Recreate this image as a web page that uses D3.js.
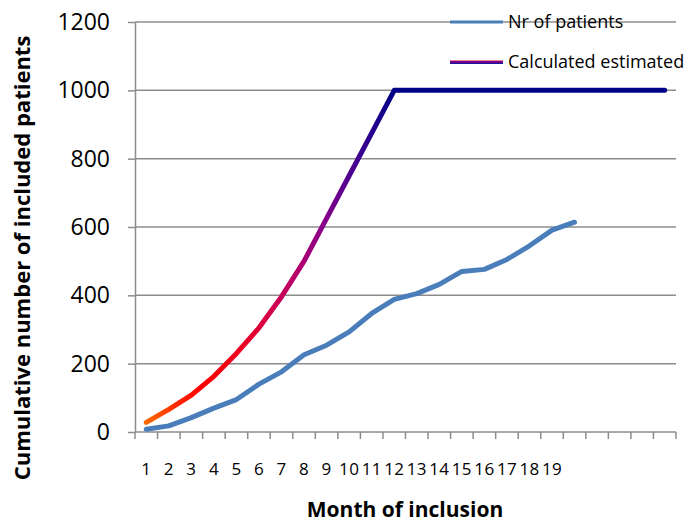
<!DOCTYPE html>
<html>
<head>
<meta charset="utf-8">
<script src="https://cdn.jsdelivr.net/npm/d3@7"></script>
<style>
  body { margin: 0; background: #fff; }
  text { font-family: "Open Sans", sans-serif; fill: #000; }
</style>
</head>
<body>
<div id="chart"></div>
<script>
// months on the x axis (24 slots, only 1-19 are labelled)
var categories = [1, 2, 3, 4, 5, 6, 7, 8, 9, 10, 11, 12, 13, 14, 15, 16, 17, 18, 19, 20, 21, 22, 23, 24];
var tickLabels = ['1', '2', '3', '4', '5', '6', '7', '8', '9', '10', '11', '12', '13', '14', '15', '16', '17', '18', '19', '', '', '', '', ''];
var yTicks = [0, 200, 400, 600, 800, 1000, 1200];

// cumulative included patients (observed)
var patients = [8, 18, 42, 70, 95, 140, 176, 226, 254, 293, 347, 388, 405, 432, 470, 476, 505, 545, 591, 614];
// calculated estimate
var estimated = [28, 66, 108, 163, 230, 305, 396, 500, 625, 750, 875, 1000, 1000, 1000, 1000, 1000, 1000, 1000, 1000, 1000, 1000, 1000, 1000, 1000];

var seriesNames = ['Nr of patients', 'Calculated estimated'];

(function () {
    var width = 686, height = 526;
    var plotLeft = 135, plotRight = 676, plotTop = 22, plotBottom = 432;
    var gridColor = '#8c8c8c';

    var svg = d3.select('#chart').append('svg')
        .attr('width', width)
        .attr('height', height);

    var x = d3.scaleBand().domain(categories).range([plotLeft, plotRight]);
    var y = d3.scaleLinear().domain([0, 1200]).range([plotBottom, plotTop]);
    var cx = function (c) { return x(c) + x.bandwidth() / 2; };

    // gradient for the estimated line (orange -> red -> purple -> navy)
    var defs = svg.append('defs');
    var grad = defs.append('linearGradient')
        .attr('id', 'estGrad')
        .attr('gradientUnits', 'userSpaceOnUse')
        .attr('x1', cx(1)).attr('y1', 0)
        .attr('x2', cx(12)).attr('y2', 0);
    [[0, '#ff6a00'], [0.12, '#ff2a00'], [0.22, '#ff0000'], [0.38, '#ee0020'],
     [0.5, '#d4004a'], [0.62, '#b00070'], [0.72, '#84008a'], [0.82, '#500090'],
     [0.92, '#22008c'], [1, '#000088']].forEach(function (s) {
        grad.append('stop').attr('offset', s[0]).attr('stop-color', s[1]);
    });
    var legGrad = defs.append('linearGradient')
        .attr('id', 'legGrad')
        .attr('x1', 0).attr('y1', 0).attr('x2', 0).attr('y2', 1);
    [[0, '#e00030'], [0.22, '#e00030'], [0.23, '#70008a'], [0.77, '#70008a'], [0.78, '#1a1aa0'], [1, '#1a1aa0']].forEach(function (s) {
        legGrad.append('stop').attr('offset', s[0]).attr('stop-color', s[1]);
    });

    // horizontal gridlines
    svg.append('g').selectAll('line')
        .data(yTicks.slice(1))
        .enter().append('line')
        .attr('x1', plotLeft).attr('x2', plotRight)
        .attr('y1', function (d) { return y(d); })
        .attr('y2', function (d) { return y(d); })
        .attr('stroke', gridColor)
        .attr('stroke-width', 1.5);

    // y axis
    var yAxis = svg.append('g')
        .attr('transform', 'translate(' + plotLeft + ',0)')
        .call(d3.axisLeft(y).tickValues(yTicks).tickFormat(d3.format('d'))
            .tickSize(7).tickPadding(18).tickSizeOuter(0));
    yAxis.select('.domain').attr('stroke', gridColor).attr('stroke-width', 1.5);
    yAxis.selectAll('.tick line').attr('stroke', gridColor).attr('stroke-width', 1.5);
    yAxis.selectAll('.tick text')
        .style('font-family', '"Open Sans", sans-serif')
        .style('font-size', '23px')
        .attr('fill', '#000');

    // x axis line and ticks at band edges
    var xg = svg.append('g');
    xg.append('line')
        .attr('x1', plotLeft).attr('x2', plotRight)
        .attr('y1', plotBottom).attr('y2', plotBottom)
        .attr('stroke', gridColor).attr('stroke-width', 1.5);
    xg.selectAll('line.tk')
        .data(categories.map(function (c) { return x(c); }).concat([plotRight]))
        .enter().append('line')
        .attr('class', 'tk')
        .attr('x1', function (d) { return d; })
        .attr('x2', function (d) { return d; })
        .attr('y1', plotBottom).attr('y2', plotBottom + 7)
        .attr('stroke', gridColor).attr('stroke-width', 1.5);
    xg.selectAll('text')
        .data(categories)
        .enter().append('text')
        .attr('x', function (d) { return cx(d); })
        .attr('y', 475)
        .attr('text-anchor', 'middle')
        .style('font-size', '17px')
        .style('letter-spacing', '0.3px')
        .text(function (d, i) { return tickLabels[i]; });

    // lines
    var line = d3.line()
        .x(function (d, i) { return cx(categories[i]); })
        .y(function (d) { return y(d); });

    svg.append('path')
        .datum(patients)
        .attr('d', line)
        .attr('fill', 'none')
        .attr('stroke', '#4a7ebb')
        .attr('stroke-width', 5)
        .attr('stroke-linecap', 'round')
        .attr('stroke-linejoin', 'round');

    svg.append('path')
        .datum(estimated)
        .attr('d', line)
        .attr('fill', 'none')
        .attr('stroke', 'url(#estGrad)')
        .attr('stroke-width', 5)
        .attr('stroke-linecap', 'round')
        .attr('stroke-linejoin', 'round');

    // legend (no background, gridline runs through it)
    var legend = svg.append('g');
    legend.append('line')
        .attr('x1', 450).attr('x2', 503)
        .attr('y1', 22).attr('y2', 22)
        .attr('stroke', '#4a7ebb').attr('stroke-width', 3);
    legend.append('rect')
        .attr('x', 450).attr('y', 60.5)
        .attr('width', 53).attr('height', 3.5)
        .attr('fill', 'url(#legGrad)');
    legend.selectAll('text')
        .data(seriesNames)
        .enter().append('text')
        .attr('x', 508)
        .attr('y', function (d, i) { return 22 + i * 40; })
        .attr('dy', '0.35em')
        .style('font-size', '18px')
        .text(function (d) { return d; });

    // axis titles
    svg.append('text')
        .attr('transform', 'translate(30,258) rotate(-90)')
        .attr('text-anchor', 'middle')
        .style('font-size', '22px')
        .style('font-weight', 'bold')
        .text('Cumulative number of included patients');

    svg.append('text')
        .attr('x', 405)
        .attr('y', 517)
        .attr('text-anchor', 'middle')
        .style('font-size', '21px')
        .style('font-weight', 'bold')
        .text('Month of inclusion');
})();
</script>
</body>
</html>
